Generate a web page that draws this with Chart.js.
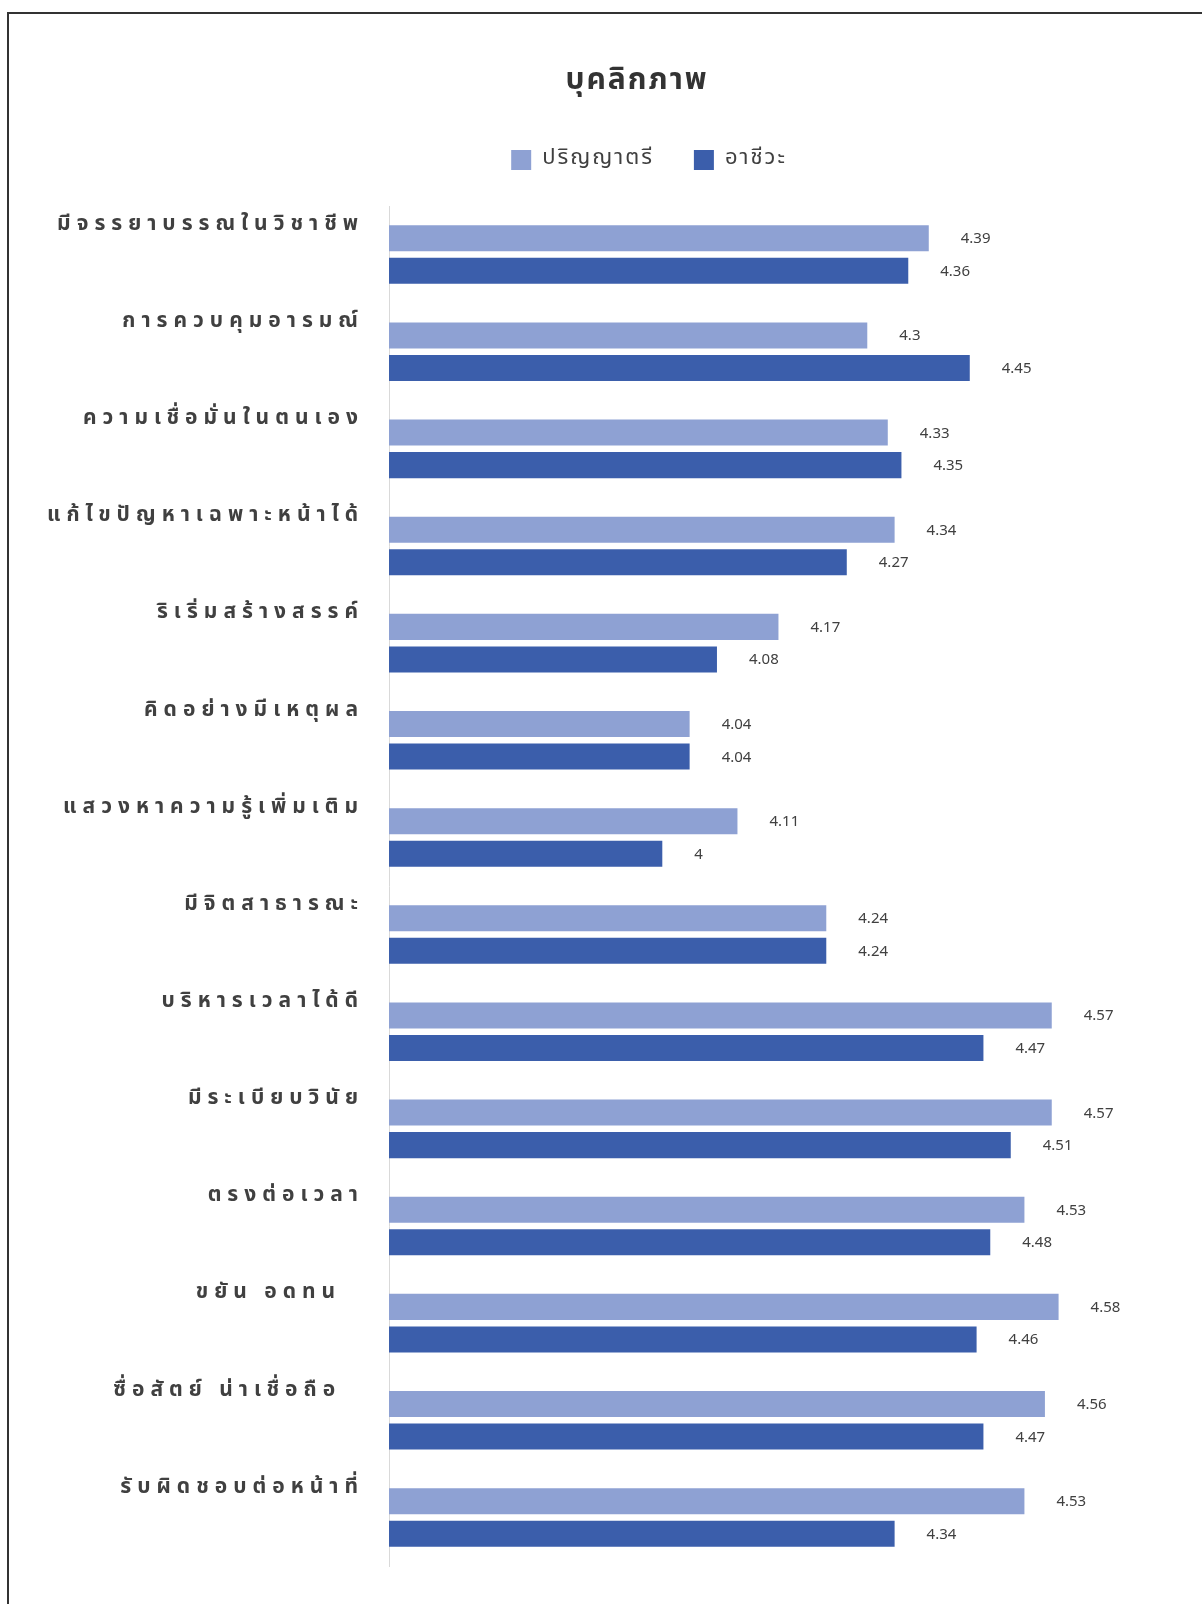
<!DOCTYPE html>
<html lang="th">
<head>
<meta charset="utf-8">
<title>บุคลิกภาพ</title>
<script src="https://cdn.jsdelivr.net/npm/chart.js@4.4.1/dist/chart.umd.min.js"></script>
<style>
  html, body { margin: 0; padding: 0; background: #ffffff; overflow: hidden; }
  body { width: 1202px; height: 1604px; position: relative; }
  #frame {
    position: absolute; left: 7px; top: 12px; width: 1300px; height: 1700px;
    border-top: 2px solid #333333; border-left: 2px solid #333333;
  }
  #wrap { position: absolute; left: 0; top: 0; width: 1260px; height: 1604px; }
</style>
</head>
<body>
<div id="frame"></div>
<div id="wrap"><canvas id="chart" width="1260" height="1604"></canvas></div>
<script>
// Personality traits, two groups of students
const chartTitle = 'บุคลิกภาพ';
const categories = [
  'มีจรรยาบรรณในวิชาชีพ',
  'การควบคุมอารมณ์',
  'ความเชื่อมั่นในตนเอง',
  'แก้ไขปัญหาเฉพาะหน้าได้',
  'ริเริ่มสร้างสรรค์',
  'คิดอย่างมีเหตุผล',
  'แสวงหาความรู้เพิ่มเติม',
  'มีจิตสาธารณะ',
  'บริหารเวลาได้ดี',
  'มีระเบียบวินัย',
  'ตรงต่อเวลา',
  'ขยัน อดทน  ',
  'ซื่อสัตย์ น่าเชื่อถือ  ',
  'รับผิดชอบต่อหน้าที่'
];
const seriesNames = ['ปริญญาตรี', 'อาชีวะ'];
const bachelorScores   = [4.39, 4.3, 4.33, 4.34, 4.17, 4.04, 4.11, 4.24, 4.57, 4.57, 4.53, 4.58, 4.56, 4.53];
const vocationalScores = [4.36, 4.45, 4.35, 4.27, 4.08, 4.04, 4.00, 4.24, 4.47, 4.51, 4.48, 4.46, 4.47, 4.34];
const axisMin = 3.6;
const axisMax = 4.866;

const FONT = '"Noto Sans Thai", Tahoma, "Leelawadee UI", Garuda, Loma, "DejaVu Sans", "Noto Sans", sans-serif';
const textColor = '#404040';

// Extra room between the legend and the bars
const legendGap = {
  id: 'legendGap',
  beforeInit(chart) {
    const fit = chart.legend.fit;
    chart.legend.fit = function () {
      fit.call(this);
      this.height += 25;
    };
  }
};

// Letter spacing per layer, and value labels to the right of each bar
const valueLabels = {
  id: 'valueLabels',
  beforeDraw(chart) {
    chart.ctx.letterSpacing = '2px';
  },
  afterDatasetsDraw(chart) {
    const ctx = chart.ctx;
    ctx.save();
    ctx.letterSpacing = '0px';
    ctx.font = '15px ' + FONT;
    ctx.fillStyle = textColor;
    ctx.textAlign = 'left';
    ctx.textBaseline = 'middle';
    chart.data.datasets.forEach((ds, di) => {
      const meta = chart.getDatasetMeta(di);
      meta.data.forEach((bar, i) => {
        ctx.fillText(String(ds.data[i]), bar.x + 32, bar.y + 2);
      });
    });
    ctx.restore();
    // spaced-out category labels on the y axis (drawn right after this hook)
    ctx.letterSpacing = '6px';
  },
  afterDraw(chart) {
    chart.ctx.letterSpacing = '0px';
  }
};

new Chart(document.getElementById('chart'), {
  type: 'bar',
  data: {
    labels: categories,
    datasets: [
      { label: seriesNames[0], data: bachelorScores,   backgroundColor: '#8ea1d3' },
      { label: seriesNames[1], data: vocationalScores, backgroundColor: '#3b5eab' }
    ]
  },
  options: {
    indexAxis: 'y',
    responsive: false,
    animation: false,
    events: [],
    layout: { padding: { top: 51, left: 20, right: 6, bottom: 38 } },
    datasets: { bar: { categoryPercentage: 0.67, barPercentage: 0.8 } },
    scales: {
      x: {
        display: false,
        min: axisMin,
        max: axisMax
      },
      y: {
        grid: { display: false, drawTicks: false },
        border: { display: true, color: '#d9d9d9', width: 1 },
        afterFit(scale) { scale.width = 369; },
        ticks: {
          z: 1,
          padding: 25,
          labelOffset: -29,
          color: textColor,
          font: { family: FONT, size: 21, weight: 'bold' }
        }
      }
    },
    plugins: {
      title: {
        display: true,
        text: chartTitle,
        color: '#333333',
        font: { family: FONT, size: 30, weight: 'bold' },
        padding: { top: 14, bottom: 8 }
      },
      legend: {
        display: true,
        position: 'top',
        labels: {
          color: textColor,
          font: { family: FONT, size: 22 },
          boxWidth: 20,
          boxHeight: 20,
          padding: 40
        }
      },
      tooltip: { enabled: false }
    }
  },
  plugins: [legendGap, valueLabels]
});
</script>
</body>
</html>
